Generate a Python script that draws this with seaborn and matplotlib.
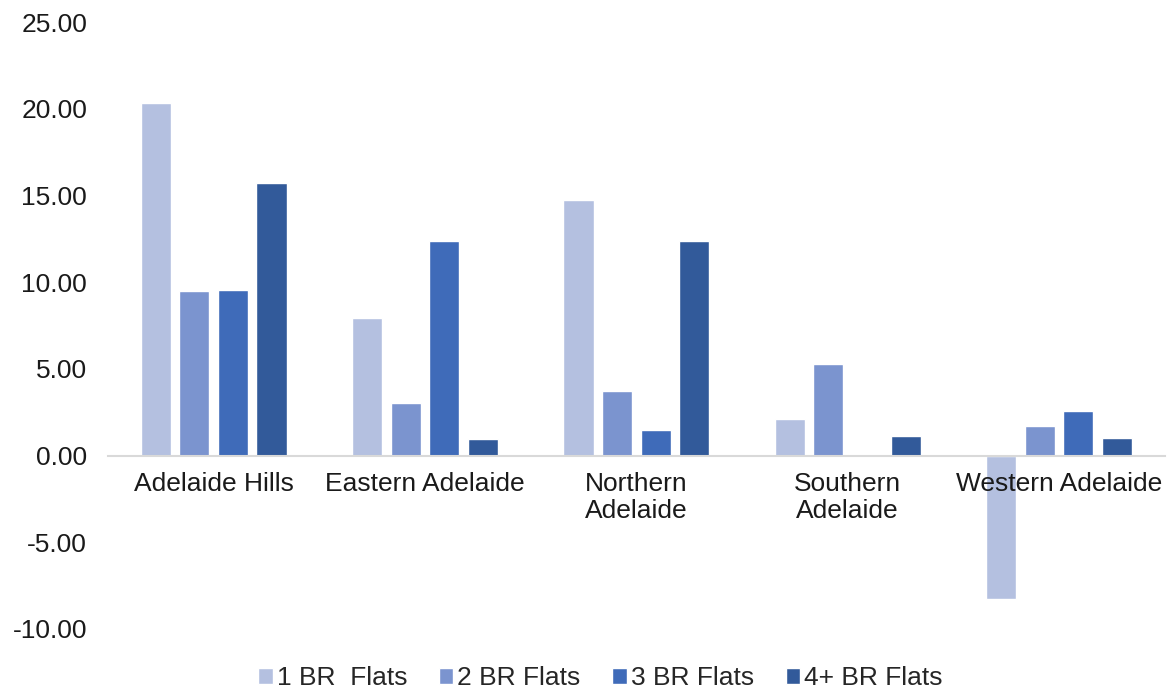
import matplotlib
matplotlib.use("Agg")
import matplotlib.pyplot as plt
import seaborn as sns
import pandas as pd

regions = ["Adelaide Hills", "Eastern Adelaide", "Northern\nAdelaide",
           "Southern\nAdelaide", "Western Adelaide"]
series_names = ["1 BR  Flats", "2 BR Flats", "3 BR Flats", "4+ BR Flats"]
br1 = [20.35, 7.95, 14.75, 2.13, -8.30]
br2 = [9.51, 3.05, 3.75, 5.30, 1.73]
br3 = [9.57, 12.39, 1.50, 0.0, 2.59]
br4 = [15.73, 0.98, 12.39, 1.15, 1.04]
colors = ["#B4C0E0", "#7B94CF", "#3F6BB9", "#325A9A"]

rows = []
for name, vals in zip(series_names, [br1, br2, br3, br4]):
    for reg, v in zip(regions, vals):
        rows.append({"region": reg, "type": name, "value": v})
df = pd.DataFrame(rows)

sns.set_theme(style="white")
plt.rcParams["font.family"] = ["Liberation Sans", "DejaVu Sans"]

fig = plt.figure(figsize=(11.73, 6.93), dpi=100)
ax = fig.add_axes([0.092, 0.0924, 0.901, 0.8756])

sns.barplot(data=df, x="region", y="value", hue="type", order=regions,
            hue_order=series_names, palette=colors, width=0.73, gap=0.22,
            errorbar=None, ax=ax, legend=True, saturation=1)
for p in ax.patches:
    p.set_zorder(1)

ax.set_ylim(-10, 25)
ticks = [-10, -5, 0, 5, 10, 15, 20, 25]
ax.set_yticks(ticks)
ax.set_yticklabels([f"{v:.2f}" for v in ticks], fontsize=19, color="#1a1a1a")
ax.set_xlim(-0.5, 4.5)
ax.set_xlabel("")
ax.set_ylabel("")

for s in ["top", "right", "left"]:
    ax.spines[s].set_visible(False)
ax.spines["bottom"].set_position(("data", 0))
ax.spines["bottom"].set_color("#D9D9D9")
ax.spines["bottom"].set_linewidth(1.5)
ax.xaxis.set_zorder(5)
ax.tick_params(axis="y", length=0, pad=15)
ax.tick_params(axis="x", length=0, pad=12, labelsize=19, colors="#1a1a1a")
for lbl in ax.get_xticklabels():
    lbl.set_linespacing(1.12)
    lbl.set_horizontalalignment("center")

ax.legend(loc="lower center", bbox_to_anchor=(0.466, -0.118), ncol=4,
          frameon=False, fontsize=19, handlelength=0.55, handleheight=0.55,
          handletextpad=0.15, columnspacing=1.2, borderaxespad=0)

fig.savefig("out.png", dpi=100)
